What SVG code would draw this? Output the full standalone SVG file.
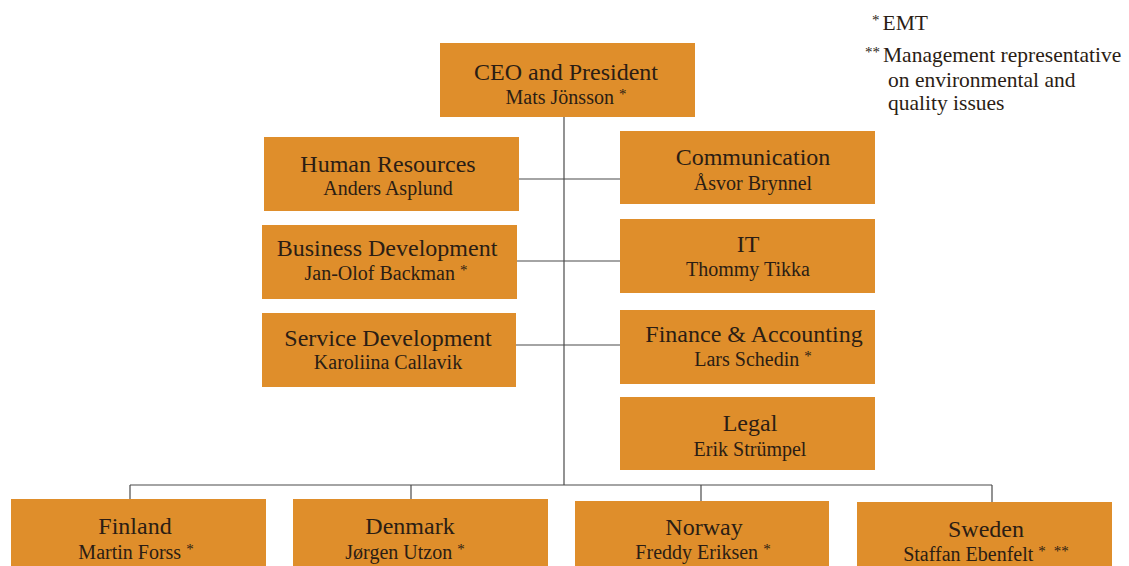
<svg xmlns="http://www.w3.org/2000/svg" width="1129" height="566" viewBox="0 0 1129 566">
  <style>
    .box { fill: #DF8E2B; }
    .t { font-family: "Liberation Serif", "DejaVu Serif", serif; fill: #2b1d14; text-anchor: middle; }
    .title { font-size: 24px; }
    .name { font-size: 20px; }
    .legend { font-family: "Liberation Serif", "DejaVu Serif", serif; fill: #2b1d14; font-size: 21.5px; }
    .star { font-size: 15px; }
    .wire { stroke: #4a4a4a; stroke-width: 1.2; fill: none; }
  </style>
  <rect width="1129" height="566" fill="#ffffff"/>

  <!-- reporting lines -->
  <g id="connectors">
    <line class="wire" x1="564" y1="117" x2="564" y2="485"/>
    <line class="wire" x1="519" y1="179" x2="620" y2="179"/>
    <line class="wire" x1="517" y1="261" x2="620" y2="261"/>
    <line class="wire" x1="516" y1="345" x2="620" y2="345"/>
    <line class="wire" x1="130" y1="485" x2="992" y2="485"/>
    <line class="wire" x1="130" y1="485" x2="130" y2="499"/>
    <line class="wire" x1="411" y1="485" x2="411" y2="499"/>
    <line class="wire" x1="701" y1="485" x2="701" y2="501"/>
    <line class="wire" x1="992" y1="485" x2="992" y2="502"/>
  </g>

  <g id="ceo">
    <rect class="box" x="440" y="43" width="255" height="74"/>
    <text class="t title" x="566" y="80">CEO and President</text>
    <text class="t name" x="566" y="104">Mats Jönsson <tspan class="star" dy="-5">*</tspan></text>
  </g>

  <g id="hr">
    <rect class="box" x="264" y="137" width="255" height="74"/>
    <text class="t title" x="388" y="172">Human Resources</text>
    <text class="t name" x="388" y="195">Anders Asplund</text>
  </g>

  <g id="communication">
    <rect class="box" x="620" y="131" width="255" height="73"/>
    <text class="t title" x="753" y="165">Communication</text>
    <text class="t name" x="753" y="190">Åsvor Brynnel</text>
  </g>

  <g id="business-development">
    <rect class="box" x="262" y="225" width="255" height="74"/>
    <text class="t title" x="387" y="256">Business Development</text>
    <text class="t name" x="386" y="280">Jan-Olof Backman <tspan class="star" dy="-5">*</tspan></text>
  </g>

  <g id="it">
    <rect class="box" x="620" y="219" width="255" height="74"/>
    <text class="t title" x="748" y="252">IT</text>
    <text class="t name" x="748" y="276">Thommy Tikka</text>
  </g>

  <g id="service-development">
    <rect class="box" x="262" y="313" width="254" height="74"/>
    <text class="t title" x="388" y="346">Service Development</text>
    <text class="t name" x="388" y="369">Karoliina Callavik</text>
  </g>

  <g id="finance">
    <rect class="box" x="620" y="310" width="255" height="74"/>
    <text class="t title" x="754" y="342">Finance &amp; Accounting</text>
    <text class="t name" x="753" y="366">Lars Schedin <tspan class="star" dy="-5">*</tspan></text>
  </g>

  <g id="legal">
    <rect class="box" x="620" y="397" width="255" height="73"/>
    <text class="t title" x="750" y="431">Legal</text>
    <text class="t name" x="750" y="456">Erik Strümpel</text>
  </g>

  <g id="finland">
    <rect class="box" x="11" y="499" width="255" height="80"/>
    <text class="t title" x="135" y="534">Finland</text>
    <text class="t name" x="136" y="559">Martin Forss <tspan class="star" dy="-5">*</tspan></text>
  </g>

  <g id="denmark">
    <rect class="box" x="293" y="499" width="255" height="80"/>
    <text class="t title" x="410" y="534">Denmark</text>
    <text class="t name" x="405" y="559">Jørgen Utzon <tspan class="star" dy="-5">*</tspan></text>
  </g>

  <g id="norway">
    <rect class="box" x="575" y="501" width="254" height="80"/>
    <text class="t title" x="704" y="535">Norway</text>
    <text class="t name" x="703" y="559">Freddy Eriksen <tspan class="star" dy="-5">*</tspan></text>
  </g>

  <g id="sweden">
    <rect class="box" x="857" y="502" width="255" height="80"/>
    <text class="t title" x="986" y="537">Sweden</text>
    <text class="t name" x="986" y="561">Staffan Ebenfelt <tspan class="star" dy="-5">*</tspan><tspan class="star" dx="8">**</tspan></text>
  </g>

  <g id="legend">
    <text class="legend" x="872" y="30"><tspan class="star" dy="-5">*</tspan><tspan dx="3" dy="5">EMT</tspan></text>
    <text class="legend" x="865" y="62"><tspan class="star" dy="-5">**</tspan><tspan dx="3" dy="5">Management representative</tspan></text>
    <text class="legend" x="888" y="87">on environmental and</text>
    <text class="legend" x="888" y="110">quality issues</text>
  </g>
</svg>
